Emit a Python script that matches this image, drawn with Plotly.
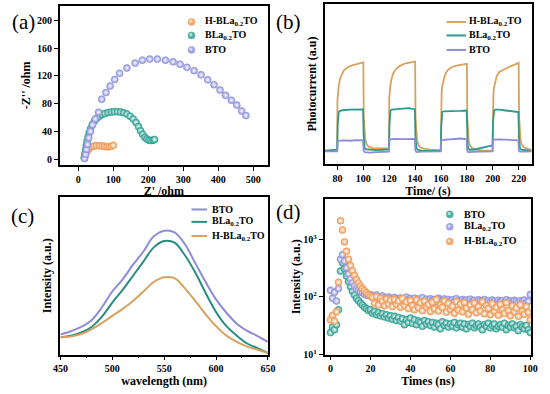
import plotly.graph_objects as go

FONT = "Liberation Serif"
SUB = "BLa<sub>0.2</sub>TO"
HSUB = "H-BLa<sub>0.2</sub>TO"

# ---------------- (a) Nyquist ----------------
a_h_x = [18, 20, 23, 27, 32, 38, 45, 52, 60, 68, 75, 82, 88, 94, 100]
a_h_y = [2, 6, 10, 13, 16, 18, 19, 19.5, 19.5, 19, 18.5, 18, 18, 18.5, 20]
a_b_x = [17, 19, 21, 23, 25, 28, 31, 35, 40, 46, 53, 60, 68, 76, 85, 94, 103, 112, 121, 130, 139,
         148, 157, 165, 172, 178, 184, 190, 196, 202, 208, 214, 218]
a_b_y = [2, 8, 14, 20, 26, 32, 38, 44, 50, 55, 59, 62, 64.5, 66, 67.3, 68, 68.5, 68.5, 68, 67, 65,
         62, 58, 53, 47, 41, 36, 31.5, 29, 27.5, 27, 27.5, 28.5]
a_t_x = [18, 21, 23.6, 26.4, 30, 34.7, 41, 48.6, 58, 67, 79, 91, 104, 118, 139, 162.5, 183, 204, 226,
         249, 271, 291, 310.6, 331, 351, 370, 388, 405, 421, 437.5, 453, 467, 479]
a_t_y = [1, 7.1, 14.2, 21.3, 30.8, 40, 49.7, 58, 67.7, 86.5, 96, 105.5, 115, 124, 131.5, 138.6, 142.8,
         144.3, 144.3, 142.8, 140.5, 137, 132.4, 127.7, 121.6, 114.5, 107.4, 99.8, 92.2, 85, 78, 69.5, 63]

# ---------------- (b) photocurrent ----------------
b_h_t = [70, 72, 75, 78, 79.8, 80, 80.5, 81, 82, 83, 85, 88, 92, 96, 100, 100.3, 100.8, 101.5, 102.5, 104, 107, 112, 119.8,
         120, 120.5, 121, 122, 123, 125, 128, 132, 136, 140, 140.3, 140.8, 141.5, 142.5, 144, 147, 152, 159.8,
         160, 160.5, 161, 162, 163, 165, 168, 172, 176, 180, 180.3, 180.8, 181.5, 182.5, 184, 187, 192, 199.8,
         200, 200.5, 201, 202, 203, 205, 208, 212, 216, 220, 220.3, 220.8, 221.5, 222.5, 224, 227, 230]
b_h_v = [0.08, 0.083, 0.085, 0.088, 0.09, 0.40, 0.45, 0.49, 0.53, 0.555, 0.585, 0.605, 0.618, 0.627, 0.635, 0.30, 0.20, 0.15, 0.125, 0.11, 0.10, 0.098, 0.098,
         0.41, 0.46, 0.50, 0.54, 0.565, 0.592, 0.612, 0.628, 0.636, 0.64, 0.30, 0.20, 0.15, 0.12, 0.105, 0.095, 0.09, 0.088,
         0.40, 0.45, 0.49, 0.53, 0.555, 0.585, 0.605, 0.615, 0.622, 0.626, 0.29, 0.19, 0.14, 0.115, 0.10, 0.09, 0.085, 0.085,
         0.39, 0.44, 0.48, 0.52, 0.55, 0.575, 0.59, 0.605, 0.618, 0.632, 0.30, 0.20, 0.15, 0.12, 0.105, 0.095, 0.09]
b_b_t = [70, 75, 79.8, 80.2, 80.6, 81, 82, 85, 90, 95, 99.8, 100.2, 100.6, 101, 102, 105, 110, 115, 119.8,
         120.2, 120.6, 121, 122, 125, 130, 135, 138, 139.8, 140.2, 140.6, 141, 142, 145, 150, 155, 159.8,
         160.2, 160.6, 161, 162, 165, 170, 175, 179.8, 180.2, 180.6, 181, 182, 185, 190, 195, 199.8,
         200.2, 200.6, 201, 202, 205, 210, 215, 219.8, 220.2, 220.6, 221, 222, 226, 230]
b_b_v = [0.085, 0.088, 0.09, 0.25, 0.31, 0.325, 0.333, 0.338, 0.34, 0.341, 0.342, 0.18, 0.12, 0.10, 0.093, 0.09, 0.088, 0.09, 0.092,
         0.25, 0.32, 0.335, 0.34, 0.343, 0.345, 0.35, 0.345, 0.343, 0.18, 0.12, 0.10, 0.09, 0.085, 0.083, 0.085, 0.085,
         0.24, 0.31, 0.325, 0.33, 0.33, 0.332, 0.333, 0.335, 0.17, 0.12, 0.10, 0.09, 0.09, 0.10, 0.11, 0.118,
         0.26, 0.32, 0.335, 0.34, 0.34, 0.335, 0.33, 0.325, 0.17, 0.12, 0.10, 0.09, 0.085, 0.083]
b_t_t = [70, 79.8, 80.2, 85, 90, 95, 99.8, 100.2, 101, 105, 110, 119.8, 120.2, 125, 130, 135, 139.8, 140.2, 141, 145, 150, 159.8,
         160.2, 165, 170, 175, 179.8, 180.2, 181, 185, 190, 199.8, 200.2, 205, 210, 215, 219.8, 220.2, 221, 225, 230]
b_t_v = [0.08, 0.08, 0.145, 0.148, 0.146, 0.15, 0.148, 0.085, 0.075, 0.072, 0.075, 0.078, 0.155, 0.158, 0.156, 0.158, 0.157, 0.085, 0.075, 0.078, 0.08, 0.08,
         0.15, 0.153, 0.158, 0.16, 0.155, 0.085, 0.075, 0.075, 0.078, 0.08, 0.153, 0.155, 0.152, 0.15, 0.148, 0.085, 0.078, 0.078, 0.08]

# ---------------- (c) PL ----------------
c_wl = [450, 460, 470, 480, 490, 500, 510, 520, 530, 540, 550, 560, 570, 580, 590, 600, 610, 620, 630, 640, 650]
c_bto = [0.127, 0.148, 0.175, 0.217, 0.30, 0.40, 0.477, 0.57, 0.654, 0.75, 0.786, 0.775, 0.70, 0.58, 0.46, 0.35, 0.265, 0.196, 0.15, 0.117, 0.08]
c_bla = [0.11, 0.12, 0.14, 0.175, 0.24, 0.33, 0.41, 0.50, 0.59, 0.68, 0.72, 0.71, 0.63, 0.52, 0.39, 0.27, 0.18, 0.12, 0.07, 0.04, 0.01]
c_hbla = [0.11, 0.115, 0.13, 0.16, 0.20, 0.245, 0.29, 0.34, 0.40, 0.46, 0.49, 0.485, 0.42, 0.34, 0.255, 0.18, 0.12, 0.08, 0.05, 0.03, 0.01]

# ---------------- (d) TRPL ----------------
d_t = list(range(0, 101))
d_bto = [24, 30, 27, 33, 60,
         280, 390, 310, 230, 185, 150, 125, 108, 95, 86, 78, 72, 66, 62, 58, 60,
         52, 56, 49, 53, 47, 51, 45, 49, 43, 47,
         41, 46, 39, 44, 38, 42, 33, 40, 36, 43,
         35, 40, 33, 38, 36, 31, 39, 34, 37, 32,
         36, 30, 35, 33, 28, 37, 32, 35, 30, 34,
         31, 36, 29, 33, 35, 30, 34, 28, 33, 31,
         35, 29, 32, 34, 30, 27, 33, 31, 35, 29,
         32, 34, 28, 31, 33, 30, 35, 27, 32, 30,
         34, 29, 31, 26, 33, 30, 28, 32, 27, 24]
d_bla = [130, 95, 120, 85, 140,
         450, 540, 420, 320, 250, 205, 175, 155, 140, 130, 122, 118, 112, 108, 105, 110,
         102, 96, 108, 99, 94, 104, 97, 92, 100, 95,
         90, 98, 93, 88, 96, 91, 86, 99, 90, 94,
         88, 95, 85, 92, 89, 97, 86, 91, 84, 93,
         87, 90, 83, 95, 88, 85, 92, 86, 90, 84,
         89, 83, 93, 86, 81, 90, 85, 88, 82, 91,
         84, 87, 80, 89, 85, 82, 90, 83, 86, 81,
         88, 84, 79, 87, 83, 86, 80, 89, 82, 85,
         81, 87, 84, 79, 86, 82, 88, 80, 84, 110]
d_hbla = [40, 48, 38, 55, 180,
          2100, 1450, 900, 620, 450, 350, 285, 235, 200, 175, 155, 140, 128, 118, 110, 104,
          98, 78, 102, 72, 95, 84, 70, 92, 76, 88,
          68, 90, 74, 85, 66, 94, 71, 82, 63, 87,
          70, 60, 88, 65, 79, 58, 84, 67, 74, 56,
          81, 62, 90, 57, 73, 66, 85, 54, 77, 61,
          69, 52, 83, 59, 75, 55, 80, 64, 50, 72,
          60, 78, 53, 68, 57, 82, 51, 71, 63, 49,
          76, 56, 66, 48, 74, 60, 52, 79, 58, 47,
          70, 55, 64, 46, 73, 57, 50, 68, 54, 40]

# colours
ORANGE_M = "#ee9a55"
TEAL_M = "#2fa293"
PURPLE_M = "#8f93dc"
ORANGE_L = "#d6a25e"
TEAL_L = "#2b9a8a"
PURPLE_L = "#8c8cd8"
TEAL_C = "#2a8c80"

W, H = 550, 394


def dom_x(x0, x1):
    return [x0 / W, x1 / W]


def dom_y(top, bottom):
    return [1 - bottom / H, 1 - top / H]


fig = go.Figure()


def sphere(color):
    return dict(size=7, color=color, gradient=dict(type="radial", color="#ffffff"),
                line=dict(width=0.6, color=color))


# (a)
fig.add_trace(go.Scatter(x=a_h_x, y=a_h_y, mode="markers", name=HSUB, marker=sphere(ORANGE_M), xaxis="x", yaxis="y"))
fig.add_trace(go.Scatter(x=a_b_x, y=a_b_y, mode="markers", name=SUB, marker=sphere(TEAL_M), xaxis="x", yaxis="y"))
fig.add_trace(go.Scatter(x=a_t_x, y=a_t_y, mode="markers", name="BTO", marker=sphere(PURPLE_M), xaxis="x", yaxis="y"))
# (b)
fig.add_trace(go.Scatter(x=b_h_t, y=b_h_v, mode="lines", name=HSUB, line=dict(color=ORANGE_L, width=1.8), xaxis="x2", yaxis="y2"))
fig.add_trace(go.Scatter(x=b_b_t, y=b_b_v, mode="lines", name=SUB, line=dict(color=TEAL_L, width=1.8), xaxis="x2", yaxis="y2"))
fig.add_trace(go.Scatter(x=b_t_t, y=b_t_v, mode="lines", name="BTO", line=dict(color=PURPLE_L, width=1.8), xaxis="x2", yaxis="y2"))
# (c)
fig.add_trace(go.Scatter(x=c_wl, y=c_bto, mode="lines", name="BTO", line=dict(color=PURPLE_L, width=2, shape="spline"), xaxis="x3", yaxis="y3"))
fig.add_trace(go.Scatter(x=c_wl, y=c_bla, mode="lines", name=SUB, line=dict(color=TEAL_C, width=2, shape="spline"), xaxis="x3", yaxis="y3"))
fig.add_trace(go.Scatter(x=c_wl, y=c_hbla, mode="lines", name=HSUB, line=dict(color=ORANGE_L, width=2, shape="spline"), xaxis="x3", yaxis="y3"))
# (d)
fig.add_trace(go.Scatter(x=d_t, y=d_bto, mode="markers", name="BTO", marker=sphere(TEAL_M), xaxis="x4", yaxis="y4"))
fig.add_trace(go.Scatter(x=d_t, y=d_bla, mode="markers", name=SUB, marker=sphere(PURPLE_M), xaxis="x4", yaxis="y4"))
fig.add_trace(go.Scatter(x=d_t, y=d_hbla, mode="markers", name=HSUB, marker=sphere(ORANGE_M), xaxis="x4", yaxis="y4"))

tickfont = dict(family=FONT, size=10, color="black", weight="bold")
titlefont = dict(family=FONT, size=12, color="black", weight="bold")
base = dict(showline=True, linecolor="black", linewidth=1.5, mirror=True, showgrid=False, zeroline=False,
            ticks="outside", ticklen=4, tickwidth=1.2, tickcolor="black", tickfont=tickfont)

fig.update_layout(
    width=W, height=H, margin=dict(l=0, r=0, t=0, b=0),
    paper_bgcolor="white", plot_bgcolor="white", showlegend=False,
    font=dict(family=FONT, color="black"),
    xaxis=dict(base, domain=dom_x(53.3, 267.7), range=[-53, 542], tickvals=[0, 100, 200, 300, 400, 500],
               anchor="y", title=dict(text="Z' /ohm", font=titlefont, standoff=2)),
    yaxis=dict(base, domain=dom_y(6, 167.3), range=[-8, 221], tickvals=[0, 40, 80, 120, 160, 200],
               anchor="x", title=dict(text="-Z'' /ohm", font=titlefont, standoff=4)),
    xaxis2=dict(base, domain=dom_x(326, 539.3), range=[70, 230], tickvals=[80, 100, 120, 140, 160, 180, 200, 220],
                anchor="y2", title=dict(text="Time/ (s)", font=titlefont, standoff=2)),
    yaxis2=dict(base, domain=dom_y(4, 166.7), range=[0, 1], showticklabels=False, ticks="",
                anchor="x2", title=dict(text="Photocurrent (a.u)", font=titlefont, standoff=4)),
    xaxis3=dict(base, domain=dom_x(54, 267.7), range=[450, 650], tickvals=[450, 500, 550, 600, 650],
                minor=dict(tickvals=[475, 525, 575, 625], ticks="outside", ticklen=2, tickcolor="black"),
                anchor="y3", title=dict(text="wavelength (nm)", font=titlefont, standoff=2)),
    yaxis3=dict(base, domain=dom_y(200, 360), range=[0, 1], showticklabels=False, ticks="",
                anchor="x3", title=dict(text="Intensity (a.u.)", font=titlefont, standoff=4)),
    xaxis4=dict(base, domain=dom_x(326, 539), range=[-3, 100.5], tickvals=[0, 20, 40, 60, 80, 100],
                anchor="y4", title=dict(text="Times (ns)", font=titlefont, standoff=2)),
    yaxis4=dict(base, domain=dom_y(202, 360), type="log", range=[1, 3.7], tickvals=[10, 100, 1000],
                ticktext=["10<sup>1</sup>", "10<sup>2</sup>", "10<sup>3</sup>"],
                anchor="x4", title=dict(text="Intensity (a.u.)", font=titlefont, standoff=0)),
)

# ---- hand-built legends (compact row spacing like the reference) ----
legfont = dict(family=FONT, size=10, color="black", weight="bold")


def leg_text(txt, px, py):
    fig.add_annotation(text=txt, x=px / W, y=1 - py / H, xref="paper", yref="paper", showarrow=False,
                       xanchor="left", yanchor="middle", font=legfont)


def leg_line(x0, x1, py, color):
    fig.add_shape(type="line", xref="paper", yref="paper", x0=x0 / W, x1=x1 / W, y0=1 - py / H, y1=1 - py / H,
                  line=dict(color=color, width=2))


def leg_dot(px, py, color):
    r = 3.6
    fig.add_shape(type="circle", xref="paper", yref="paper", x0=(px - r) / W, x1=(px + r) / W,
                  y0=1 - (py + r) / H, y1=1 - (py - r) / H, fillcolor=color, line=dict(color=color, width=0.6),
                  opacity=0.85)
    r2 = 1.6
    fig.add_shape(type="circle", xref="paper", yref="paper", x0=(px - r2 - 0.6) / W, x1=(px + r2 - 0.6) / W,
                  y0=1 - (py + r2 - 0.8) / H, y1=1 - (py - r2 - 0.8) / H, fillcolor="white",
                  line=dict(width=0), opacity=0.6)


# (a)
for (txt, col), py in zip([(HSUB, ORANGE_M), (SUB, TEAL_M), ("BTO", PURPLE_M)], [22.3, 36, 50.7]):
    leg_dot(189, py, col)
    leg_text(txt, 201, py)
# (b)
for (txt, col), py in zip([(HSUB, ORANGE_L), (SUB, TEAL_L), ("BTO", PURPLE_L)], [22.3, 36, 50.7]):
    leg_line(451.7, 471.7, py, col)
    leg_text(txt, 473, py)
# (c)
for (txt, col), py in zip([("BTO", PURPLE_L), (SUB, TEAL_C), (HSUB, ORANGE_L)], [212.7, 225.3, 239.7]):
    leg_line(189, 205, py, col)
    leg_text(txt, 208, py)
# (d)
for (txt, col), py in zip([("BTO", TEAL_M), (SUB, PURPLE_M), (HSUB, ORANGE_M)], [217.7, 230.3, 245.3]):
    leg_dot(455, py, col)
    leg_text(txt, 468, py)

labels = [("(a)", 16, 22), ("(b)", 289, 22), ("(c)", 15, 219), ("(d)", 289, 215)]
for txt, px, py in labels:
    fig.add_annotation(text=txt, x=px / W, y=1 - py / H, xref="paper", yref="paper", showarrow=False,
                       xanchor="center", yanchor="middle", font=dict(family=FONT, size=21, color="black"))

fig.write_html("out.html", config={"displayModeBar": False},
               post_script="document.body.style.margin='0px';")
